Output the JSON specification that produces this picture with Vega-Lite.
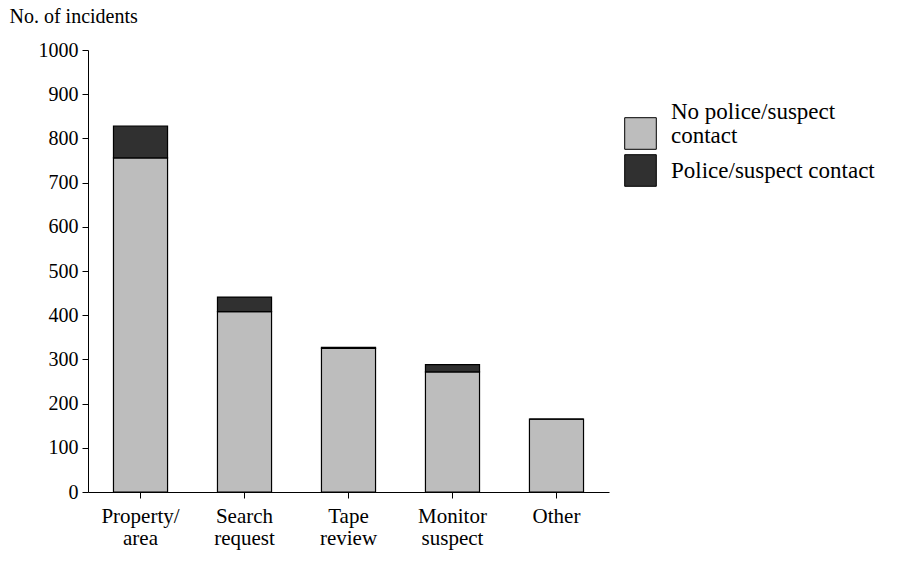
{
  "$schema": "https://vega.github.io/schema/vega-lite/v6.json",
  "width": 521,
  "height": 442,
  "autosize": {"type": "none"},
  "padding": {"left": 88, "top": 50, "right": 315, "bottom": 69},
  "background": "white",
  "data": {
    "values": [
      {"activity": "Property/area", "contact": "No police/suspect contact", "n": 756},
      {"activity": "Property/area", "contact": "Police/suspect contact", "n": 72},
      {"activity": "Search request", "contact": "No police/suspect contact", "n": 408},
      {"activity": "Search request", "contact": "Police/suspect contact", "n": 33},
      {"activity": "Tape review", "contact": "No police/suspect contact", "n": 325},
      {"activity": "Tape review", "contact": "Police/suspect contact", "n": 2},
      {"activity": "Monitor suspect", "contact": "No police/suspect contact", "n": 272},
      {"activity": "Monitor suspect", "contact": "Police/suspect contact", "n": 16},
      {"activity": "Other", "contact": "No police/suspect contact", "n": 165},
      {"activity": "Other", "contact": "Police/suspect contact", "n": 0}
    ]
  },
  "mark": {"type": "bar", "stroke": "black", "strokeWidth": 1.2},
  "encoding": {
    "x": {
      "field": "activity",
      "type": "nominal",
      "sort": ["Property/area", "Search request", "Tape review", "Monitor suspect", "Other"],
      "scale": {"paddingInner": 0.48, "paddingOuter": 0.245},
      "axis": {
        "title": null,
        "labelAngle": 0,
        "labelFont": "Liberation Serif",
        "labelFontSize": 21,
        "labelColor": "black",
        "labelLineHeight": 22,
        "labelPadding": 7,
        "labelBaseline": "top",
        "labelExpr": "datum.label == 'Property/area' ? ['Property/', 'area'] : split(datum.label, ' ')",
        "domainColor": "black",
        "tickColor": "black",
        "tickSize": 6
      }
    },
    "y": {
      "field": "n",
      "type": "quantitative",
      "aggregate": "sum",
      "stack": "zero",
      "scale": {"domain": [0, 1000], "nice": false},
      "axis": {
        "values": [0, 100, 200, 300, 400, 500, 600, 700, 800, 900, 1000],
        "format": "d",
        "grid": false,
        "title": "No. of incidents",
        "titleAngle": 0,
        "titleAlign": "left",
        "titleBaseline": "top",
        "titleX": -79,
        "titleY": -44,
        "titleFont": "Liberation Serif",
        "titleFontSize": 20,
        "titleFontWeight": "normal",
        "titleColor": "black",
        "labelFont": "Liberation Serif",
        "labelFontSize": 20,
        "labelColor": "black",
        "labelPadding": 4,
        "domainColor": "black",
        "tickColor": "black",
        "tickSize": 6
      }
    },
    "fill": {
      "field": "contact",
      "type": "nominal",
      "scale": {
        "domain": ["No police/suspect contact", "Police/suspect contact"],
        "range": ["#bdbdbd", "#303030"]
      },
      "legend": {
        "title": null,
        "orient": "none",
        "legendX": 536,
        "legendY": 67,
        "symbolType": "square",
        "symbolSize": 1000,
        "symbolStrokeColor": "black",
        "symbolStrokeWidth": 1,
        "labelFont": "Liberation Serif",
        "labelFontSize": 23,
        "labelColor": "black",
        "labelOffset": 14,
        "labelLimit": 400,
        "rowPadding": 0,
        "labelExpr": "datum.label == 'No police/suspect contact' ? ['No police/suspect', 'contact'] : datum.label",
        "encode": {
          "labels": {
            "update": {
              "lineHeight": {"value": 24},
              "dy": {"signal": "datum.value == 'No police/suspect contact' ? -22 : 0"}
            }
          }
        }
      }
    },
    "order": {"field": "contact", "sort": "ascending"}
  },
  "config": {"view": {"stroke": null}}
}
